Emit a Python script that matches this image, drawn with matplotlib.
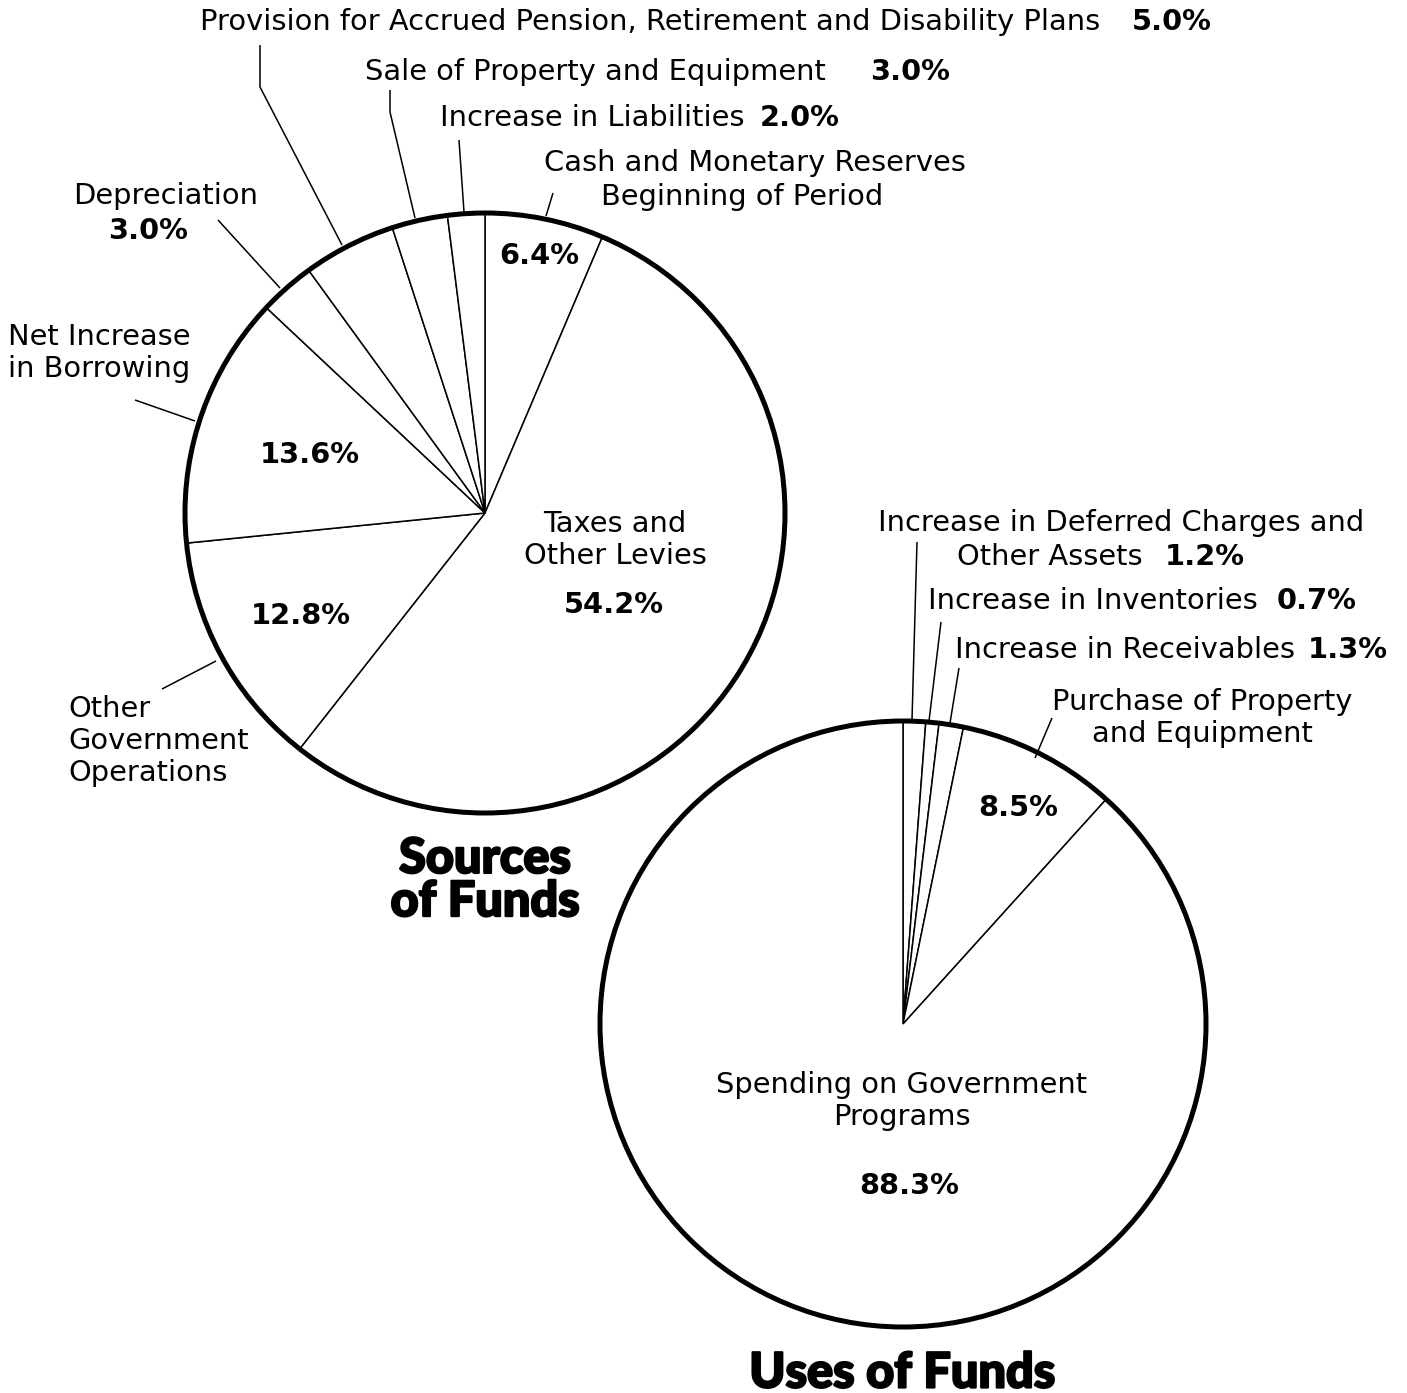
import matplotlib
matplotlib.use("Agg")
import matplotlib.pyplot as plt
import matplotlib.patheffects as pe
from matplotlib.patches import Circle

# sources of funds, clockwise from 12 o'clock
src_labels = ["Cash and Monetary Reserves\nBeginning of Period", "Taxes and\nOther Levies",
              "Other\nGovernment\nOperations", "Net Increase\nin Borrowing", "Depreciation",
              "Provision for Accrued Pension, Retirement and Disability Plans",
              "Sale of Property and Equipment", "Increase in Liabilities"]
src_values = [6.4, 54.2, 12.8, 13.6, 3.0, 5.0, 3.0, 2.0]

# uses of funds, clockwise from 12 o'clock
use_labels = ["Increase in Deferred Charges and\nOther Assets", "Increase in Inventories",
              "Increase in Receivables", "Purchase of Property\nand Equipment",
              "Spending on Government\nPrograms"]
use_values = [1.2, 0.7, 1.3, 8.5, 88.3]

W, H = 1407, 1393
plt.rcParams["font.family"] = ["DejaVu Sans"]

fig = plt.figure(figsize=(W / 100, H / 100), dpi=100)
ax = fig.add_axes([0, 0, 1, 1])

def pct(v):
    return f"{v:.1f}%"

# axis works in pixel units with y running downward, so the pies go
# counterclockwise in data space to come out clockwise on screen
pies = [((485, 513), 300, src_values), ((903, 1024), 303, use_values)]
for center, r, vals in pies:
    ax.pie(vals, center=center, radius=r, startangle=-90, counterclock=True,
           wedgeprops=dict(facecolor="white", edgecolor="black", linewidth=1.1))
    ax.add_patch(Circle(center, r, fill=False, edgecolor="black", linewidth=3.6, zorder=5))

ax.set_xlim(0, W)
ax.set_ylim(H, 0)
ax.set_aspect("auto")
ax.axis("off")

fs = 20.8
lab = dict(fontsize=fs, va="center", color="black")
bold = dict(fontsize=fs, va="center", color="black", fontweight="bold")
ls = 1.2

# one-line labels at the top with their bold percentages
ax.text(200, 22, src_labels[5], ha="left", **lab)
ax.text(1212, 22, pct(src_values[5]), ha="right", **bold)
ax.text(365, 72, src_labels[6], ha="left", **lab)
ax.text(950, 72, pct(src_values[6]), ha="right", **bold)
ax.text(440, 118, src_labels[7], ha="left", **lab)
ax.text(840, 118, pct(src_values[7]), ha="right", **bold)
cash1, cash2 = src_labels[0].split("\n")
ax.text(755, 163, cash1, ha="center", **lab)
ax.text(742, 197, cash2, ha="center", **lab)
ax.text(166, 196, src_labels[4], ha="center", **lab)
ax.text(148, 231, pct(src_values[4]), ha="center", **bold)
ax.text(8, 353, src_labels[3], ha="left", linespacing=ls, **lab)
ax.text(68, 741, src_labels[2], ha="left", linespacing=ls, **lab)

# inside the sources pie
ax.text(539, 256, pct(src_values[0]), ha="center", **bold)
ax.text(310, 455, pct(src_values[3]), ha="center", **bold)
ax.text(301, 616, pct(src_values[2]), ha="center", **bold)
ax.text(615, 540, src_labels[1], ha="center", linespacing=ls, **lab)
ax.text(614, 605, pct(src_values[1]), ha="center", **bold)

# uses of funds labels
def1, def2 = use_labels[0].split("\n")
ax.text(1121, 523, def1, ha="center", **lab)
ax.text(957, 557, def2, ha="left", **lab)
ax.text(1245, 557, pct(use_values[0]), ha="right", **bold)
ax.text(928, 601, use_labels[1], ha="left", **lab)
ax.text(1357, 601, pct(use_values[1]), ha="right", **bold)
ax.text(955, 650, use_labels[2], ha="left", **lab)
ax.text(1388, 650, pct(use_values[2]), ha="right", **bold)
ax.text(1202, 718, use_labels[3], ha="center", linespacing=ls, **lab)
ax.text(1018, 808, pct(use_values[3]), ha="center", **bold)
ax.text(902, 1101, use_labels[4], ha="center", linespacing=ls, **lab)
ax.text(909, 1186, pct(use_values[4]), ha="center", **bold)

# leader lines from labels to the rim
leaders = [
    [(260, 45), (260, 87), (342, 245)],
    [(390, 90), (390, 112), (415, 218)],
    [(459, 140), (464, 212)],
    [(553, 193), (546, 216)],
    [(218, 220), (280, 288)],
    [(135, 400), (195, 421)],
    [(162, 689), (216, 661)],
    [(917, 542), (912, 720)],
    [(941, 622), (929, 721)],
    [(959, 668), (950, 723)],
    [(1052, 718), (1035, 758)],
]
for pts in leaders:
    xs, ys = zip(*pts)
    ax.plot(xs, ys, color="black", linewidth=1.1, solid_capstyle="butt")

title = dict(fontsize=35, fontweight="black", ha="center", va="center",
             family=["Lato", "DejaVu Sans"], linespacing=0.95,
             path_effects=[pe.withStroke(linewidth=1.6, foreground="black")])
ax.text(485, 880, "Sources\nof Funds", **title)
ax.text(902, 1373, "Uses of Funds", **title)

fig.savefig("out.png", dpi=100, facecolor="white")
